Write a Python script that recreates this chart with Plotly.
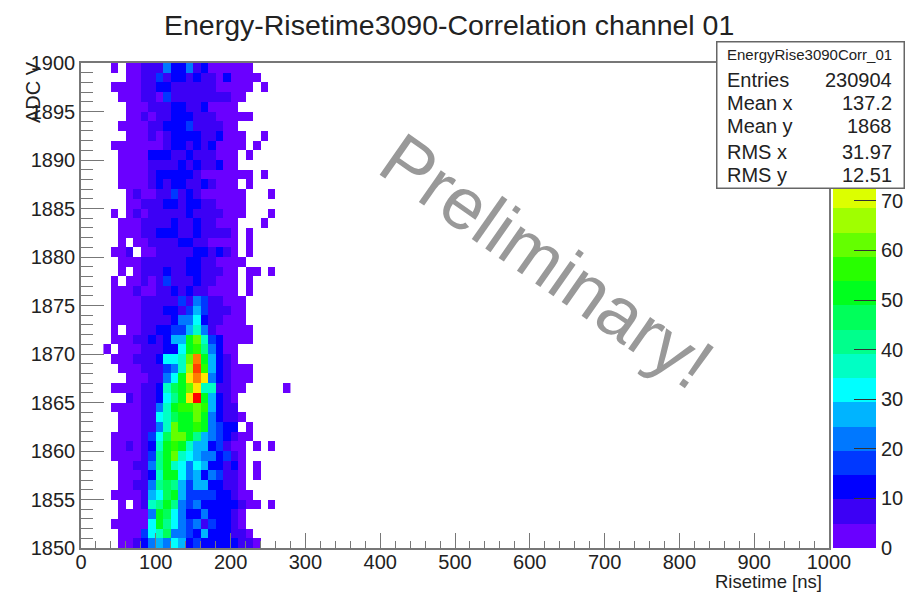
import plotly.graph_objects as go

# Risetime bin centres (ns) and ADC bin centres, top row first
risetime = [35, 45, 55, 65, 75, 85, 95, 105, 115, 125, 135, 145, 155, 165, 175,
            185, 195, 205, 215, 225, 235, 245, 255, 265, 275]
adc = [1899.5 - i for i in range(50)]

# Counts per bin (0 = empty bin)
counts = [
    [0,3,0,3,3,7,7,7,22,12,12,22,7,12,3,3,3,3,3,3,0,0,0,0,0],
    [0,0,0,3,3,7,7,17,7,12,12,7,12,7,7,3,12,3,3,3,3,0,0,0,0],
    [0,3,3,3,3,7,7,12,12,7,7,7,7,7,7,3,3,3,3,3,0,3,0,0,0],
    [0,0,3,3,3,7,7,3,17,7,7,7,7,7,7,7,7,3,3,0,0,0,0,0,0],
    [0,0,0,3,3,3,7,7,7,12,12,7,7,12,3,3,3,3,0,0,0,0,0,0,0],
    [0,0,0,3,3,7,3,7,7,12,12,12,7,7,7,3,3,3,3,3,0,0,0,0,0],
    [0,0,3,3,3,3,7,7,12,12,12,17,7,7,7,7,3,3,0,0,0,0,0,0,0],
    [0,0,0,3,3,3,7,3,7,12,12,12,12,7,7,12,3,3,3,0,0,3,0,0,0],
    [0,3,3,3,3,3,3,3,7,12,12,7,12,7,12,3,3,3,3,0,3,0,0,0,0],
    [0,0,3,3,3,3,12,12,12,7,7,12,7,7,7,3,3,3,0,3,0,0,0,0,0],
    [0,0,3,3,3,3,7,7,7,7,12,7,12,7,7,12,3,3,0,0,0,0,0,0,0],
    [0,0,3,3,3,3,7,12,12,12,12,12,7,3,3,3,3,3,3,3,0,3,0,0,0],
    [0,0,3,3,3,3,7,12,7,12,12,7,7,12,7,3,3,3,0,3,0,0,0,0,0],
    [0,0,0,3,7,3,3,7,7,17,7,12,7,3,3,3,3,3,3,0,0,0,3,0,0],
    [0,0,0,3,3,7,7,7,12,12,7,12,12,7,7,3,3,3,3,0,0,0,0,0,0],
    [0,3,0,3,7,3,7,7,7,7,7,12,7,7,7,7,3,3,3,0,0,0,3,0,0],
    [0,0,3,3,3,7,7,7,7,12,7,7,12,7,7,3,3,3,0,0,0,3,0,0,0],
    [0,0,3,3,3,7,7,12,12,12,7,7,12,7,7,7,7,3,0,3,0,0,0,0,0],
    [0,0,3,0,3,3,7,7,7,7,12,12,7,7,3,3,3,3,0,3,0,0,0,0,0],
    [0,3,3,7,0,3,3,7,7,7,7,7,12,12,7,12,7,3,0,3,0,0,0,0,0],
    [0,0,3,3,3,7,7,7,7,7,7,12,12,7,7,3,3,3,3,0,0,0,0,0,0],
    [0,0,3,0,3,7,7,7,12,7,7,12,12,7,7,7,3,3,0,3,3,0,3,0,0],
    [0,3,0,3,3,7,3,7,17,7,7,7,12,7,7,3,3,3,0,3,0,0,0,0,0],
    [0,3,3,3,7,3,3,7,7,12,7,12,7,7,3,3,3,3,0,3,0,0,0,0,0],
    [0,3,3,3,3,7,7,7,7,7,17,7,22,17,7,7,3,3,3,0,0,0,0,0,0],
    [0,3,3,3,3,7,7,7,12,12,7,17,27,17,7,7,7,3,3,0,0,0,0,0,0],
    [0,3,3,3,3,7,7,7,7,12,22,22,32,12,7,7,3,3,3,0,0,0,0,0,0],
    [0,3,0,3,3,7,7,12,12,17,17,27,37,22,7,3,3,3,3,3,0,0,0,0,0],
    [0,3,3,3,7,7,12,7,12,27,27,51,61,37,17,12,3,3,3,3,0,0,0,0,0],
    [3,0,3,3,3,7,7,7,12,12,32,51,56,42,22,12,3,3,0,0,0,0,0,0,0],
    [0,3,3,3,7,7,7,12,32,32,37,61,85,51,27,12,7,3,0,0,0,0,0,0,0],
    [0,0,3,3,3,7,7,7,17,22,37,66,90,56,27,12,7,3,3,3,0,0,0,0,0],
    [0,0,0,3,3,3,7,7,22,32,51,76,85,76,22,12,7,3,3,3,0,0,0,0,0],
    [0,3,3,3,3,7,7,12,37,46,51,61,76,37,37,7,7,3,3,0,0,0,0,0,3],
    [0,0,0,7,3,7,7,12,32,42,51,76,95,51,27,12,7,3,0,0,0,0,0,0,0],
    [0,3,3,3,3,7,7,22,37,51,56,56,61,56,27,12,7,7,0,0,0,0,0,0,0],
    [0,0,3,3,3,7,7,32,37,46,51,51,61,51,22,12,7,7,3,0,0,0,0,0,0],
    [0,0,3,3,3,7,7,22,37,61,51,51,56,51,22,17,12,12,0,3,0,0,0,0,0],
    [0,3,3,3,3,7,17,32,46,61,61,51,42,27,22,17,12,7,3,3,0,0,0,0,0],
    [0,3,3,7,3,7,12,37,51,56,51,37,27,27,12,17,7,3,3,0,3,0,3,0,0],
    [0,3,3,3,3,7,17,42,51,61,37,32,27,22,22,12,17,7,3,0,0,0,0,0,0],
    [0,0,3,3,7,7,22,42,51,37,32,22,32,27,12,12,7,12,3,0,3,0,0,0,0],
    [0,0,3,3,3,7,12,37,51,51,32,22,27,12,22,17,7,7,3,0,3,0,0,0,0],
    [0,0,3,3,7,7,22,42,46,42,27,17,27,27,12,12,7,7,3,0,0,0,0,0,0],
    [0,3,3,3,3,7,27,32,46,51,27,17,17,17,17,12,12,7,3,3,0,0,0,0,0],
    [0,0,3,0,3,7,37,42,51,42,22,17,22,12,12,12,12,12,7,3,3,0,3,0,0],
    [0,0,3,3,3,3,22,51,46,32,22,12,12,22,12,12,12,7,3,0,0,0,0,0,0],
    [0,3,3,3,3,3,32,51,42,32,22,17,22,7,17,12,12,7,3,0,0,0,0,0,0],
    [0,0,3,3,3,17,32,37,46,22,22,17,12,27,12,12,12,7,7,3,0,0,0,0,0],
    [0,0,3,3,7,12,22,27,22,32,27,12,17,12,12,12,12,12,7,7,3,0,0,0,0],
]

level_colors = ["#6a00ff", "#3c00f5", "#0000ff", "#0038ff", "#0078ff", "#00b4ff",
                "#00ffff", "#00ffc4", "#00ff8c", "#00ff5a", "#00ff1e", "#28ff00",
                "#64ff00", "#a0ff00", "#dcff00", "#ffe600", "#ffb400", "#ff7d00",
                "#ff4000", "#ff0000"]
z_max = 97.8
colorbar_ticks = [0, 10, 20, 30, 40, 50, 60, 70]
title = "Energy-Risetime3090-Correlation channel 01"
stat_name = "EnergyRise3090Corr_01"
stat_labels = ["Entries", "Mean x", "Mean y", "RMS x", "RMS y"]
stat_values = ["230904", "137.2", "1868", "31.97", "12.51"]
stat_rows_px = [80, 103, 126, 152, 175]

W, H = 917, 592
PAGE = 8  # the page's default body margin
L, R, T, B = 81, 829, 63, 548
FONT = "Liberation Sans, Arial, sans-serif"
INK = "#222222"
FRAME = "#777777"

def px(x):
    return (x - L) / (R - L)

def py(y):
    return (B - y) / (B - T)

n = len(level_colors)
scale = []
for i, c in enumerate(level_colors):
    scale += [[i / n, c], [(i + 1) / n, c]]

z = [[v if v else None for v in row] for row in counts]

fig = go.Figure(go.Heatmap(
    x=risetime, y=adc, z=z, zmin=0, zmax=z_max, colorscale=scale, hoverongaps=False,
    colorbar=dict(x=px(833), xanchor="left", xref="paper", y=0, yanchor="bottom", yref="paper",
                  len=1, lenmode="fraction", thickness=43, thicknessmode="pixels",
                  outlinewidth=0, xpad=0, ypad=0,
                  tickmode="array", tickvals=colorbar_ticks, showticklabels=False,
                  ticks="inside", ticklen=22, tickcolor="#333333", tickwidth=1),
))

fig.update_xaxes(range=[0, 1000], tick0=0, dtick=100, ticks="inside", ticklen=15, tickwidth=1,
                 tickcolor=FRAME, showgrid=False, zeroline=False, showline=True, linecolor=FRAME,
                 linewidth=1.5, mirror=True, tickfont=dict(family=FONT, size=20, color=INK),
                 ticklabelstandoff=-5,
                 minor=dict(dtick=20, ticks="inside", ticklen=7, tickcolor=FRAME, tickwidth=1, showgrid=False))
fig.update_yaxes(range=[1850, 1900], tick0=1850, dtick=5, ticks="inside", ticklen=23, tickwidth=1,
                 tickcolor=FRAME, showgrid=False, zeroline=False, showline=True, linecolor=FRAME,
                 linewidth=1.5, mirror=True, tickfont=dict(family=FONT, size=20, color=INK),
                 minor=dict(dtick=1, ticks="inside", ticklen=12, tickcolor=FRAME, tickwidth=1, showgrid=False))

ann = []
def text(x, y, s, size, xanchor="center", yanchor="middle", angle=0, color=INK, **kw):
    ann.append(dict(x=px(x), y=py(y), xref="paper", yref="paper", text=s, showarrow=False,
                    xanchor=xanchor, yanchor=yanchor, textangle=angle,
                    font=dict(family=FONT, size=size, color=color), borderpad=0, **kw))

# colour-bar labels (the bar's own labels would push the plot area out of place)
for v in colorbar_ticks:
    ann.append(dict(x=px(880), y=v / z_max, xref="paper", yref="paper", text=str(v), showarrow=False,
                    xanchor="left", yanchor="middle", font=dict(family=FONT, size=20, color=INK),
                    borderpad=0))

# opaque stats box; a plain annotation so it sits over the colour bar
text(810, 115, " ", 12, width=186, height=145, bgcolor="white", bordercolor="#666666", borderwidth=1.5)
text(449, 25, title, 28.5)
text(809, 54, stat_name, 15)
for label, value, row in zip(stat_labels, stat_values, stat_rows_px):
    text(726, row, label, 20, xanchor="left")
    text(893, row, value, 20, xanchor="right")
text(33, 92, "ADC V", 20, angle=-90)
text(823, 581, "Risetime [ns]", 18.5, xanchor="right")
text(547, 260, "Preliminary!", 73, angle=35, color="#999999")

fig.update_layout(width=W - PAGE, height=H - PAGE, autosize=False,
                  margin=dict(l=L - PAGE, r=W - R, t=T - PAGE, b=H - B, pad=0),
                  plot_bgcolor="white", paper_bgcolor="white",
                  annotations=ann,
                  shapes=[dict(type="line", xref="paper", yref="paper", x0=px(716), x1=px(903),
                               y0=py(66), y1=py(66), line=dict(color="#666666", width=1.5))])

fig.write_html("out.html")
